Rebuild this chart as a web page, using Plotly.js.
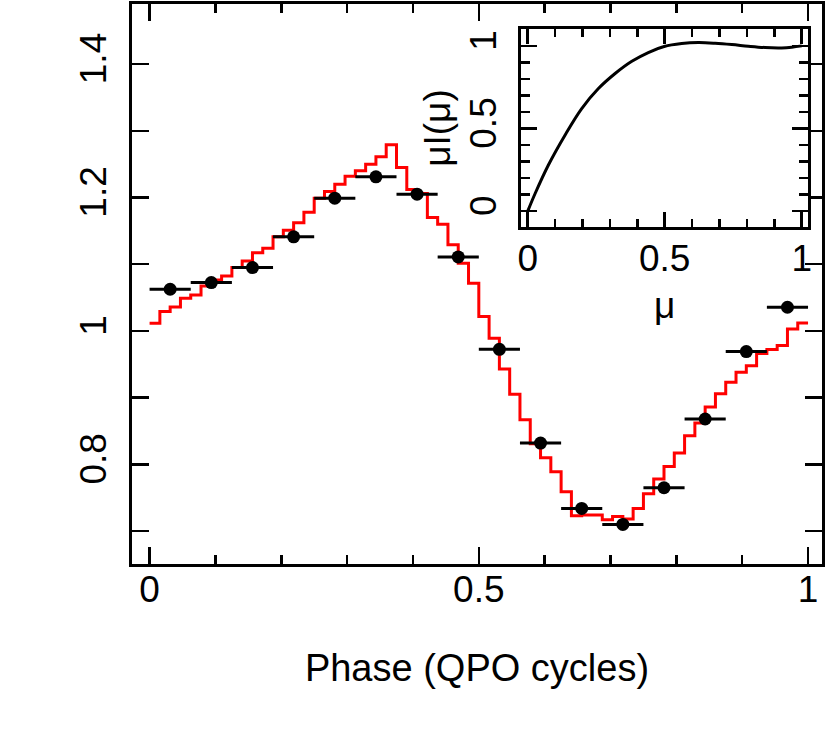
<!DOCTYPE html>
<html>
<head>
<meta charset="utf-8">
<script src="https://cdn.plot.ly/plotly-3.0.1.min.js"></script>
<style>html,body{margin:0;padding:0;background:#fff;}#chart{width:830px;height:750px;}</style>
</head>
<body>
<div id="chart"></div>
<script>
// Observed pulse profile: 16 phase bins (centres) with values
const phaseCenters = [0.03125, 0.09375, 0.15625, 0.21875, 0.28125, 0.34375, 0.40625, 0.46875,
                      0.53125, 0.59375, 0.65625, 0.71875, 0.78125, 0.84375, 0.90625, 0.96875];
const observedFlux = [1.0625, 1.0725, 1.095, 1.141, 1.199, 1.231, 1.205, 1.111,
                      0.9725, 0.832, 0.734, 0.710, 0.765, 0.868, 0.969, 1.0355];
const phaseBinHalfWidth = 1 / 32;

// Model light curve (64 phase bins, histogram)
const modelFlux = [1.0115, 1.029, 1.036, 1.049, 1.054, 1.0675, 1.0765, 1.0825,
                   1.095, 1.105, 1.117, 1.124, 1.141, 1.151, 1.162, 1.178,
                   1.199, 1.209, 1.220, 1.232, 1.240, 1.250, 1.261, 1.279,
                   1.245, 1.212, 1.206, 1.170, 1.160, 1.129, 1.1015, 1.0715,
                   1.0215, 0.989, 0.943, 0.905, 0.867, 0.831, 0.810, 0.789,
                   0.759, 0.723, 0.724, 0.724, 0.717, 0.722, 0.718, 0.734,
                   0.756, 0.778, 0.797, 0.817, 0.843, 0.862, 0.886, 0.906,
                   0.923, 0.938, 0.948, 0.966, 0.972, 0.978, 1.003, 1.012];

// Inset: beaming function mu*I(mu)
const muValues  = [0, 0.027, 0.075, 0.136, 0.197, 0.258, 0.319, 0.380, 0.440, 0.498,
                   0.562, 0.623, 0.684, 0.745, 0.805, 0.866, 0.927, 0.964, 1.0];
const muIValues = [0, 0.107, 0.278, 0.46, 0.621, 0.742, 0.833, 0.907, 0.96, 0.996,
                   1.014, 1.02, 1.016, 1.008, 0.998, 0.99, 0.988, 0.992, 1.0];

const xTitle = 'Phase (QPO cycles)';
const insetXTitle = 'μ';
const insetYTitle = 'μI(μ)';

// histogram edges from bin count
const nBins = modelFlux.length;
const modelX = modelFlux.map((v, i) => i / nBins).concat([1]);
const modelY = modelFlux.concat([modelFlux[nBins - 1]]);

const FONT = 'Liberation Sans, Arial, Helvetica, sans-serif';
const FS = 37;

const traces = [
  {
    x: modelX, y: modelY, type: 'scatter', mode: 'lines',
    line: {color: '#ff0000', width: 3, shape: 'hv'},
    xaxis: 'x', yaxis: 'y', hoverinfo: 'skip'
  },
  {
    x: phaseCenters, y: observedFlux, type: 'scatter', mode: 'markers',
    marker: {color: '#000', size: 13},
    error_x: {type: 'constant', value: phaseBinHalfWidth, thickness: 3, width: 0, color: '#000'},
    xaxis: 'x', yaxis: 'y'
  },
  {
    x: muValues, y: muIValues, type: 'scatter', mode: 'lines',
    line: {color: '#000', width: 3, shape: 'spline', smoothing: 1},
    xaxis: 'x2', yaxis: 'y2'
  }
];

const axisCommon = {
  showline: true, linecolor: '#000', linewidth: 3, mirror: 'ticks',
  ticks: 'inside', tickcolor: '#000', tickwidth: 2.5,
  showgrid: false, zeroline: false, fixedrange: true,
  tickfont: {family: FONT, size: FS, color: '#000'}
};

const layout = {
  width: 830, height: 750,
  margin: {l: 132, r: 8, t: 4, b: 186},
  paper_bgcolor: '#fff', plot_bgcolor: '#fff',
  showlegend: false,
  font: {family: FONT, color: '#000'},
  xaxis: Object.assign({}, axisCommon, {
    domain: [0, 1], range: [-0.0267, 1.0212],
    tickmode: 'array', tickvals: [0, 0.5, 1], ticktext: ['0', '0.5', '1'],
    ticklen: 17, ticklabelstandoff: -9,
    minor: {dtick: 0.1, tick0: 0, ticklen: 9, tickwidth: 2.5, tickcolor: '#000', ticks: 'inside', showgrid: false},
    title: {text: xTitle, font: {family: FONT, size: 38, color: '#000'}, standoff: 45}
  }),
  yaxis: Object.assign({}, axisCommon, {
    domain: [0, 1], range: [0.6507, 1.490],
    tickmode: 'array', tickvals: [0.8, 1, 1.2, 1.4], ticktext: ['0.8', '1', '1.2', '1.4'],
    ticklen: 17, tickangle: -90, ticklabelstandoff: 8,
    minor: {dtick: 0.1, tick0: 0, ticklen: 17, tickwidth: 2.5, tickcolor: '#000', ticks: 'inside', showgrid: false}
  }),
  xaxis2: Object.assign({}, axisCommon, {
    domain: [0.5638, 0.9801], range: [-0.0245, 1.024], anchor: 'y2',
    tickmode: 'array', tickvals: [0, 0.5, 1], ticktext: ['0', '0.5', '1'],
    ticklen: 15, ticklabelstandoff: -3,
    minor: {dtick: 0.1, tick0: 0, ticklen: 8, tickwidth: 2.5, tickcolor: '#000', ticks: 'inside', showgrid: false},
    title: {text: insetXTitle, font: {family: FONT, size: FS, color: '#000'}, standoff: 14}
  }),
  yaxis2: Object.assign({}, axisCommon, {
    domain: [0.602, 0.955], range: [-0.095, 1.101], anchor: 'x2',
    tickmode: 'array', tickvals: [0, 0.5, 1], ticktext: ['0', '0.5', '1'],
    ticklen: 16, tickangle: -90, ticklabelstandoff: 7,
    minor: {dtick: 0.1, tick0: 0, ticklen: 9, tickwidth: 2.5, tickcolor: '#000', ticks: 'inside', showgrid: false},
    title: {text: insetYTitle, font: {family: FONT, size: FS, color: '#000'}, standoff: 2}
  })
};

Plotly.newPlot('chart', traces, layout, {staticPlot: true, displayModeBar: false});
</script>
</body>
</html>
